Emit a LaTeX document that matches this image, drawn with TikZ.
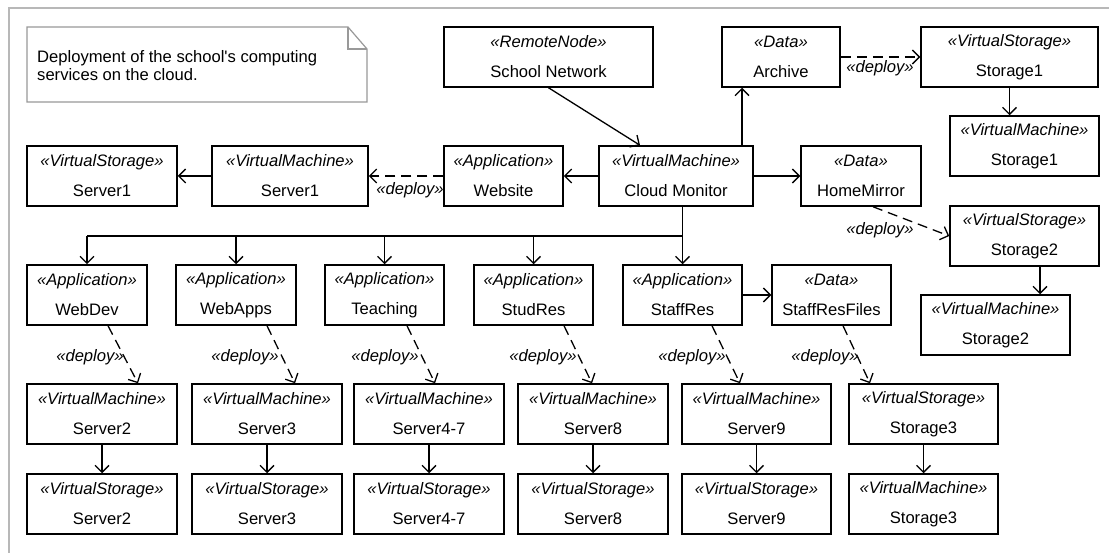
\documentclass[tikz,border=0pt]{standalone}
\usepackage{fontspec}
\setmainfont{Liberation Sans}
\usetikzlibrary{arrows.meta,calc}
\font\notefnt="Liberation Sans" at 16.6pt
\begin{document}
\begin{tikzpicture}[x=1pt,y=-1pt,
  box/.style={draw=black, line width=1.5pt, minimum height=60pt, inner sep=0pt, align=center,
    font=\fontsize{16.6}{30}\selectfont},
  conn/.style={line width=1.3pt, -{Straight Barb[length=7pt,width=14pt]}},
  dep/.style={conn, dash pattern=on 10pt off 6pt},
  lbl/.style={inner sep=0pt, font=\fontsize{16.6}{20}\selectfont\itshape},
  notebox/.style={draw=black!40, line width=1.2pt}]
\useasboundingbox (0,0) rectangle (1109,553);
\fill[white] (0,0) rectangle (1109,553);
\draw[black!28, line width=2pt] (9,8) rectangle (1125,570);
% note
\draw[notebox] (27,27) -- (348,27) -- (367,49) -- (367,102) -- (27,102) -- cycle;
\draw[notebox] (348,27) -- (348,49) -- (367,49);
\node[anchor=west, inner sep=0pt, align=left, font=\fontsize{16.6}{17.5}\selectfont\notefnt] (notetext) at (37,65.5)
  {Deployment of the school's computing\\services on the cloud.};
% boxes
\newcommand{\ster}[2]{{\itshape «#1»}\\#2}
\node[box, minimum width=150pt] (vsS1) at (102,176) {\ster{VirtualStorage}{Server1}};
\node[box, minimum width=156pt] (vmS1) at (290,176) {\ster{VirtualMachine}{Server1}};
\node[box, minimum width=209pt] (school) at (548.5,57) {\ster{RemoteNode}{School Network}};
\node[box, minimum width=119pt] (website) at (503.5,176) {\ster{Application}{Website}};
\node[box, minimum width=154pt] (cloud) at (676,176) {\ster{VirtualMachine}{Cloud Monitor}};
\node[box, minimum width=118pt] (archive) at (781,57) {\ster{Data}{Archive}};
\node[box, minimum width=177pt] (vsSt1) at (1009.5,57) {\ster{VirtualStorage}{Storage1}};
\node[box, minimum width=149pt] (vmSt1) at (1024.5,146) {\ster{VirtualMachine}{Storage1}};
\node[box, minimum width=120pt] (home) at (861,176) {\ster{Data}{HomeMirror}};
\node[box, minimum width=149pt] (vsSt2) at (1024.5,236) {\ster{VirtualStorage}{Storage2}};
\node[box, minimum width=149pt] (vmSt2) at (995.5,325) {\ster{VirtualMachine}{Storage2}};
\node[box, minimum width=120pt] (webdev) at (87,295) {\ster{Application}{WebDev}};
\node[box, minimum width=120pt] (webapps) at (236,295) {\ster{Application}{WebApps}};
\node[box, minimum width=119pt] (teaching) at (384.5,295) {\ster{Application}{Teaching}};
\node[box, minimum width=119pt] (studres) at (533.5,295) {\ster{Application}{StudRes}};
\node[box, minimum width=119pt] (staffres) at (682.5,295) {\ster{Application}{StaffRes}};
\node[box, minimum width=119pt] (files) at (831.5,295) {\ster{Data}{StaffResFiles}};
\node[box, minimum width=150pt] (vmS2) at (102,414) {\ster{VirtualMachine}{Server2}};
\node[box, minimum width=150pt] (vmS3) at (267,414) {\ster{VirtualMachine}{Server3}};
\node[box, minimum width=150pt] (vmS47) at (429,414) {\ster{VirtualMachine}{Server4-7}};
\node[box, minimum width=150pt] (vmS8) at (593,414) {\ster{VirtualMachine}{Server8}};
\node[box, minimum width=149pt] (vmS9) at (756.5,414) {\ster{VirtualMachine}{Server9}};
\node[box, minimum width=149pt] (vsSt3) at (923.5,414) {\ster{VirtualStorage}{Storage3}};
\node[box, minimum width=150pt] (vsS2) at (102,504) {\ster{VirtualStorage}{Server2}};
\node[box, minimum width=150pt] (vsS3) at (267,504) {\ster{VirtualStorage}{Server3}};
\node[box, minimum width=150pt] (vsS47) at (429,504) {\ster{VirtualStorage}{Server4-7}};
\node[box, minimum width=150pt] (vsS8) at (593,504) {\ster{VirtualStorage}{Server8}};
\node[box, minimum width=149pt] (vsS9) at (756.5,504) {\ster{VirtualStorage}{Server9}};
\node[box, minimum width=149pt] (vmSt3) at (923.5,504) {\ster{VirtualMachine}{Storage3}};
% top connectors
\draw[conn] (school.south) -- ([xshift=-36pt]cloud.north);
\draw[conn] (cloud.west) -- (website.east);
\draw[dep] (website.west) -- (vmS1.east);
\node[lbl] (d0) at (410,190) {«deploy»};
\draw[conn] (vmS1.west) -- (vsS1.east);
\coordinate (ca) at ([xshift=66pt]cloud.north);
\draw[conn] (ca) -- (ca |- archive.south);
\draw[conn] (cloud.east) -- (home.west);
\draw[dep] (archive.east) -- (vsSt1.west);
\node[lbl] (d1) at (880,68) {«deploy»};
\draw[conn] (vsSt1.south) -- (vsSt1.south |- vmSt1.north);
\draw[dep] ([xshift=12pt]home.south) -- (vsSt2.west);
\node[lbl] (d2) at (880,230) {«deploy»};
\coordinate (s2) at ([xshift=15.5pt]vsSt2.south);
\draw[conn] (s2) -- (s2 |- vmSt2.north);
% bus
\coordinate (bus) at (682.5,236);
\draw[line width=1.3pt] (cloud.south -| staffres.north) -- (bus) -- (bus -| webdev.north);
\draw[conn] (bus) -- (staffres.north);
\draw[conn] (bus -| webdev.north) -- (webdev.north);
\draw[conn] (bus -| webapps.north) -- (webapps.north);
\draw[conn] (bus -| teaching.north) -- (teaching.north);
\draw[conn] (bus -| studres.north) -- (studres.north);
\draw[conn] (staffres.east) -- (files.west);
% deploy to VMs
\draw[dep] ([xshift=21pt]webdev.south) -- ([xshift=36pt]vmS2.north);
\draw[dep] ([xshift=31pt]webapps.south) -- ([xshift=28pt]vmS3.north);
\draw[dep] ([xshift=22.5pt]teaching.south) -- ([xshift=6pt]vmS47.north);
\draw[dep] ([xshift=30.5pt]studres.south) -- ([xshift=-1pt]vmS8.north);
\draw[dep] ([xshift=29.5pt]staffres.south) -- ([xshift=-16.5pt]vmS9.north);
\draw[dep] ([xshift=11.5pt]files.south) -- ([xshift=-53.5pt]vsSt3.north);
\node[lbl] (d3) at (90,357) {«deploy»};
\node[lbl] (d4) at (245,357) {«deploy»};
\node[lbl] (d5) at (385,357) {«deploy»};
\node[lbl] (d6) at (543,357) {«deploy»};
\node[lbl] (d7) at (692,357) {«deploy»};
\node[lbl] (d8) at (825,357) {«deploy»};
% VM to storage
\draw[conn] (vmS2.south) -- (vsS2.north);
\draw[conn] (vmS3.south) -- (vsS3.north);
\draw[conn] (vmS47.south) -- (vsS47.north);
\draw[conn] (vmS8.south) -- (vsS8.north);
\draw[conn] (vmS9.south) -- (vsS9.north);
\draw[conn] (vsSt3.south) -- (vmSt3.north);
\end{tikzpicture}
\end{document}
